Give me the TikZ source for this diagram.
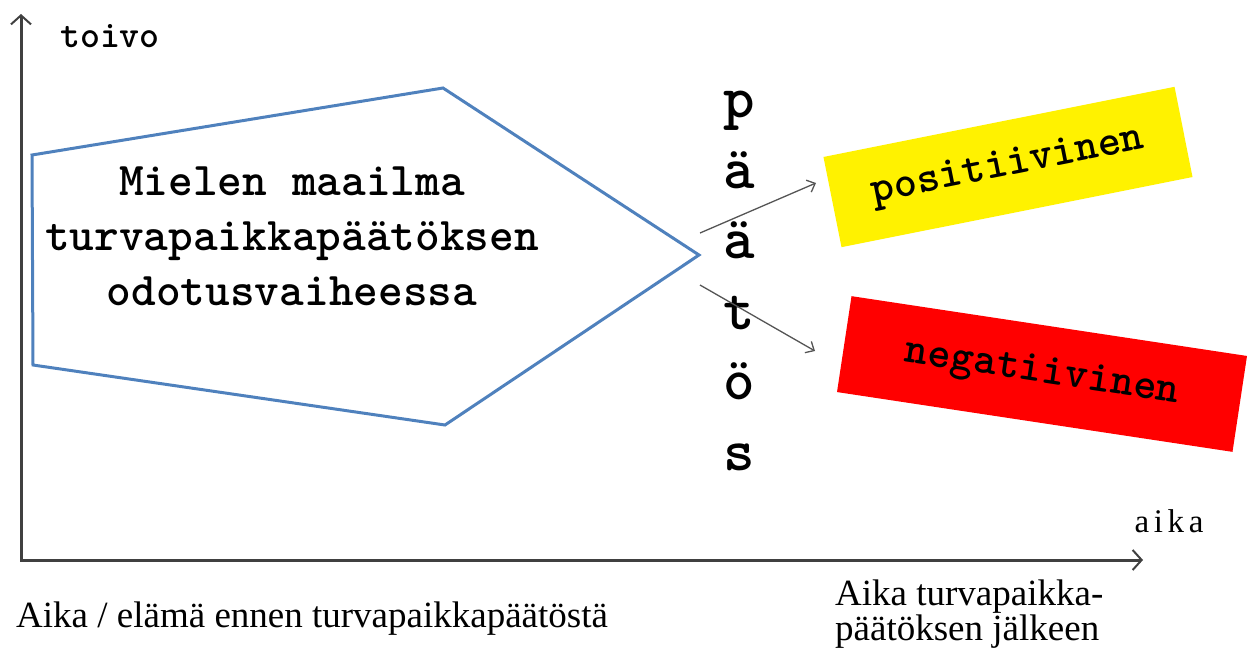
\documentclass[tikz,border=0pt]{standalone}
\usepackage{fontspec}
\usepackage{tikz}
\usetikzlibrary{arrows.meta, positioning}
\newfontfamily\timesfont{Liberation Serif}
\definecolor{axiscolor}{RGB}{64, 64, 64}
\definecolor{shapeblue}{RGB}{79, 129, 189}
\definecolor{arrowgray}{RGB}{85, 85, 85}

\begin{document}
\begin{tikzpicture}[
    x=1pt, y=-1pt,
    axis/.style={draw=axiscolor, line width=3pt, line join=miter,
        {Straight Barb[length=9pt, width=20pt, line width=2pt]}-{Straight Barb[length=9pt, width=20pt, line width=2pt]}},
    branch/.style={draw=arrowgray, line width=1.3pt, -{Straight Barb[length=7pt, width=13pt]}},
    outcome/.style={rectangle, inner sep=0pt, font=\ttfamily\bfseries\fontsize{44}{44}\selectfont},
    letter/.style={anchor=base, inner sep=0pt, font=\ttfamily\bfseries\fontsize{60}{60}\selectfont},
    label/.style={anchor=base west, inner sep=0pt, font=\timesfont\fontsize{37}{37}\selectfont},
]
    \useasboundingbox (0,0) rectangle (1253,651);
    % Axes
    \coordinate (origin) at (21,560);
    \coordinate (yend) at (21,14);
    \coordinate (xend) at (1143,560);
    \draw[axis] (yend) -- (origin) -- (xend);
    \node[anchor=base, inner sep=0pt, font=\ttfamily\bfseries\fontsize{38}{38}\selectfont] (toivo) at (110,47) {toivo};
    \node[anchor=base, inner sep=0pt, font=\timesfont\fontsize{33}{33}\selectfont\addfontfeature{LetterSpace=14}] (aika) at (1169,532) {aika};
    % Waiting phase
    \coordinate (w1) at (32,155);
    \coordinate (w2) at (443,88);
    \coordinate (w3) at (699,255);
    \coordinate (w4) at (445,425);
    \coordinate (w5) at (33,365);
    \draw[shapeblue, line width=3pt] (w1) -- (w2) -- (w3) -- (w4) -- (w5) -- cycle;
    \node[align=center, inner sep=0pt, font=\ttfamily\bfseries\fontsize{47}{55}\selectfont] (mind) at (292,236)
        {Mielen maailma\\turvapaikkapäätöksen\\odotusvaiheessa};
    % Decision letters
    \foreach \ch/\yy [count=\k] in {p/117, ä/188, ä/258, t/329, ö/399, s/470} {
        \node[letter] (dec\k) at (739,\yy) {\ch};
    }
    % Outcomes
    \node[outcome, fill=yellow, minimum width=358pt, minimum height=92pt, rotate=11.3] (pos) at (1008,167) {positiivinen};
    \node[outcome, fill=red, minimum width=400pt, minimum height=97pt, rotate=-8.6] (neg) at (1042,374) {negatiivinen};
    \coordinate (fork1) at (700,233);
    \coordinate (fork2) at (700,285);
    \coordinate (tip1) at (816,183);
    \coordinate (tip2) at (815,351);
    \draw[branch] (fork1) -- (tip1);
    \draw[branch] (fork2) -- (tip2);
    % Time labels
    \node[label] (before) at (16,627) {Aika / elämä ennen turvapaikkapäätöstä};
    \node[label] (after1) at (835,605) {Aika turvapaikka-};
    \node[label] (after2) at (835,640) {päätöksen jälkeen};
\end{tikzpicture}
\end{document}
